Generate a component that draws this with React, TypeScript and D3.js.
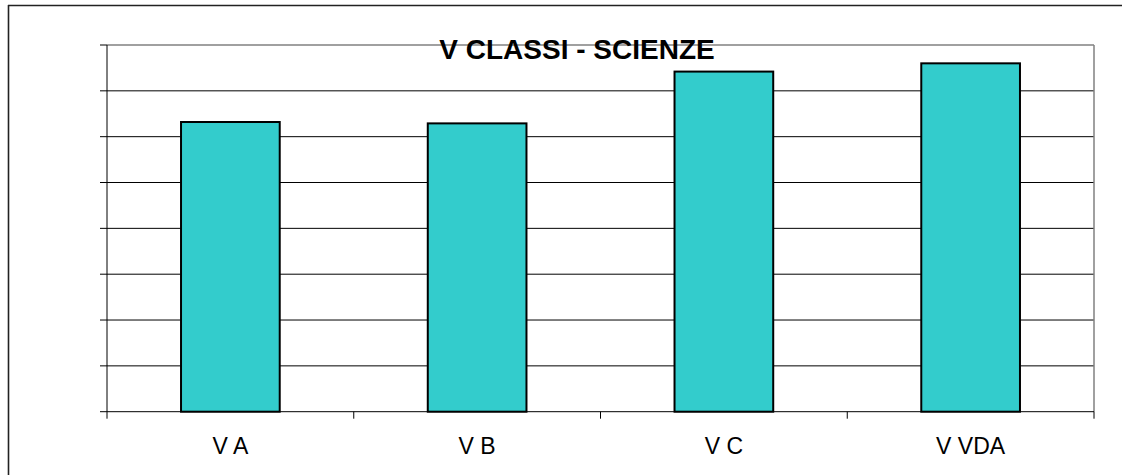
import React from "react";
import * as d3 from "d3";

const categories = ["V A", "V B", "V C", "V VDA"];
const values = [6.32, 6.29, 7.42, 7.6];
const yTicks = [0, 1, 2, 3, 4, 5, 6, 7, 8];
const title = "V CLASSI - SCIENZE";

const W = 1122;
const H = 475;
const plot = { left: 107, right: 1094, top: 45, bottom: 411.7 };

export default function App() {
  const x = d3
    .scaleBand<string>()
    .domain(categories)
    .range([plot.left, plot.right])
    .padding(0);
  const y = d3.scaleLinear().domain([0, 8]).range([plot.bottom, plot.top]);
  const bw = x.bandwidth() / 2.5;
  const boundaries = [...categories.map((c) => x(c) as number), plot.right];

  return (
    <svg
      width={W}
      height={H}
      style={{ position: "absolute", left: 0, top: 0, background: "#fff" }}
      fontFamily="'Liberation Sans', Arial, sans-serif"
    >
      <rect x={0} y={0} width={W} height={H} fill="#fff" />
      {/* outer frame */}
      <line x1={8} y1={5.5} x2={W} y2={5.5} stroke="#222" strokeWidth={1.6} />
      <line x1={8.5} y1={5} x2={8.5} y2={H} stroke="#222" strokeWidth={1.6} />

      {/* gridlines */}
      {yTicks.slice(1, -1).map((t) => (
        <line key={t} x1={plot.left} x2={plot.right} y1={y(t)} y2={y(t)} stroke="#000" strokeWidth={1} />
      ))}
      {/* plot area border top/right */}
      <line x1={plot.left} x2={plot.right} y1={y(8)} y2={y(8)} stroke="#808080" strokeWidth={1.5} />
      <line x1={plot.right} x2={plot.right} y1={plot.top} y2={plot.bottom} stroke="#808080" strokeWidth={1.5} />

      {/* bars */}
      {categories.map((c, i) => {
        const cx = (x(c) as number) + x.bandwidth() / 2;
        return (
          <rect
            key={c}
            x={cx - bw / 2}
            y={y(values[i])}
            width={bw}
            height={y(0) - y(values[i])}
            fill="#33CCCC"
            stroke="#000"
            strokeWidth={2}
          />
        );
      })}

      {/* y axis */}
      <line x1={plot.left} x2={plot.left} y1={plot.top} y2={plot.bottom} stroke="#000" strokeWidth={1} />
      {yTicks.map((t) => (
        <line key={t} x1={plot.left - 7} x2={plot.left} y1={y(t)} y2={y(t)} stroke="#000" strokeWidth={1} />
      ))}

      {/* x axis */}
      <line x1={plot.left} x2={plot.right} y1={y(0)} y2={y(0)} stroke="#000" strokeWidth={1} />
      {boundaries.map((b, i) => (
        <line key={i} x1={b} x2={b} y1={y(0)} y2={y(0) + 7} stroke="#000" strokeWidth={1} />
      ))}
      {categories.map((c) => (
        <text
          key={c}
          x={(x(c) as number) + x.bandwidth() / 2}
          y={453.5}
          textAnchor="middle"
          fontSize={23}
          fill="#000"
        >
          {c}
        </text>
      ))}

      {/* title */}
      <text x={577} y={58.5} textAnchor="middle" fontSize={28} fontWeight="bold" fill="#000">
        {title}
      </text>
    </svg>
  );
}
